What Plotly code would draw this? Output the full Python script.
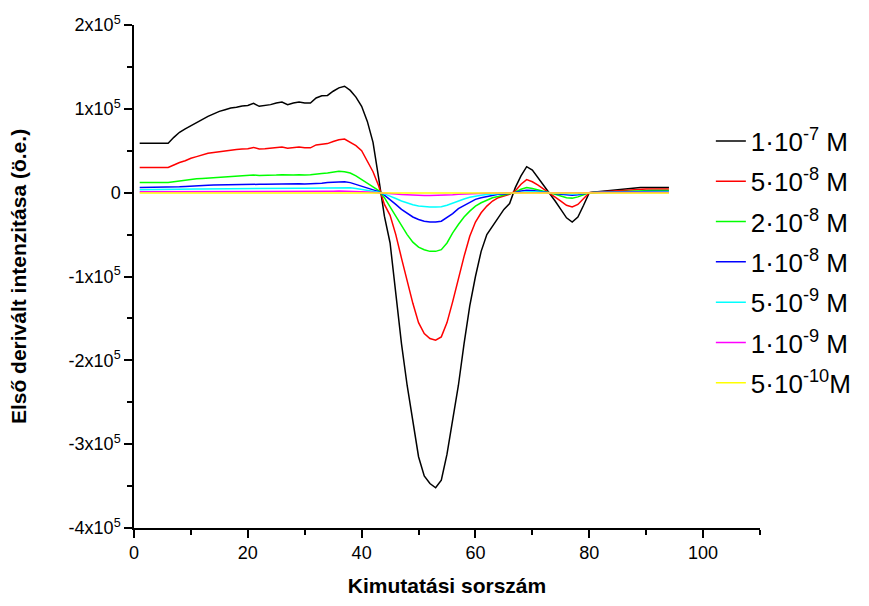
import plotly.graph_objects as go

x_index = list(range(1, 95))

# values in units of 1e5
black = [0.59, 0.59, 0.59, 0.59, 0.59, 0.59, 0.66, 0.72, 0.76, 0.80,
         0.84, 0.87, 0.91, 0.94, 0.97, 0.99, 1.01, 1.02, 1.035, 1.04,
         1.065, 1.03, 1.04, 1.05, 1.07, 1.08, 1.05, 1.07, 1.08, 1.07,
         1.07, 1.13, 1.155, 1.16, 1.21, 1.25, 1.27, 1.22, 1.14, 1.03,
         0.85, 0.60, 0.17, -0.28, -0.60, -1.20, -1.80, -2.30, -2.75, -3.15,
         -3.38, -3.47, -3.52, -3.43, -3.12, -2.72, -2.30, -1.80, -1.35, -1.00,
         -0.70, -0.50, -0.40, -0.30, -0.20, -0.13, 0.06, 0.20, 0.31, 0.27,
         0.18, 0.09, 0.0, -0.10, -0.20, -0.30, -0.35, -0.29, -0.15, 0.0,
         0.008, 0.015, 0.022, 0.03, 0.037, 0.045, 0.053, 0.06, 0.062, 0.062,
         0.062, 0.062, 0.062, 0.062]
red = [0.30, 0.30, 0.30, 0.30, 0.30, 0.30, 0.33, 0.36, 0.38, 0.41,
       0.43, 0.45, 0.47, 0.48, 0.49, 0.50, 0.51, 0.515, 0.52, 0.525,
       0.54, 0.52, 0.525, 0.53, 0.54, 0.545, 0.53, 0.54, 0.545, 0.535,
       0.535, 0.57, 0.58, 0.585, 0.61, 0.63, 0.64, 0.60, 0.56, 0.50,
       0.38, 0.25, 0.08, -0.14, -0.27, -0.50, -0.78, -1.05, -1.32, -1.55,
       -1.68, -1.74, -1.76, -1.72, -1.55, -1.30, -1.02, -0.76, -0.52, -0.35,
       -0.24, -0.16, -0.10, -0.06, -0.04, -0.02, 0.02, 0.10, 0.155, 0.13,
       0.09, 0.045, 0.0, -0.05, -0.10, -0.15, -0.17, -0.14, -0.07, 0.0,
       0.005, 0.01, 0.015, 0.02, 0.025, 0.03, 0.035, 0.04, 0.043, 0.043,
       0.043, 0.043, 0.043, 0.043]
green = [0.12, 0.12, 0.12, 0.12, 0.12, 0.12, 0.13, 0.14, 0.15, 0.16,
         0.165, 0.17, 0.175, 0.18, 0.185, 0.19, 0.195, 0.20, 0.20, 0.205,
         0.21, 0.205, 0.205, 0.21, 0.21, 0.215, 0.21, 0.21, 0.215, 0.21,
         0.215, 0.225, 0.23, 0.235, 0.245, 0.255, 0.25, 0.235, 0.20, 0.16,
         0.11, 0.07, 0.025, -0.06, -0.17, -0.28, -0.40, -0.50, -0.59, -0.65,
         -0.68, -0.70, -0.70, -0.68, -0.60, -0.48, -0.38, -0.29, -0.22, -0.16,
         -0.12, -0.09, -0.06, -0.045, -0.03, -0.015, 0.005, 0.04, 0.062, 0.05,
         0.035, 0.02, 0.0, -0.02, -0.04, -0.06, -0.065, -0.05, -0.025, 0.0,
         0.003, 0.006, 0.01, 0.013, 0.016, 0.02, 0.023, 0.026, 0.027, 0.027,
         0.027, 0.027, 0.027, 0.027]
blue = [0.062, 0.062, 0.062, 0.062, 0.062, 0.062, 0.065, 0.07, 0.075, 0.08,
        0.082, 0.085, 0.088, 0.09, 0.092, 0.095, 0.097, 0.10, 0.10, 0.10,
        0.102, 0.10, 0.10, 0.102, 0.104, 0.105, 0.103, 0.104, 0.105, 0.104,
        0.105, 0.11, 0.113, 0.12, 0.125, 0.13, 0.13, 0.12, 0.10, 0.08,
        0.055, 0.035, 0.012, -0.03, -0.08, -0.14, -0.20, -0.25, -0.29, -0.32,
        -0.34, -0.35, -0.35, -0.34, -0.30, -0.25, -0.19, -0.15, -0.11, -0.08,
        -0.06, -0.045, -0.03, -0.02, -0.015, -0.008, 0.002, 0.02, 0.03, 0.025,
        0.018, 0.01, 0.0, -0.01, -0.02, -0.028, -0.03, -0.025, -0.012, 0.0,
        0.002, 0.004, 0.005, 0.007, 0.008, 0.01, 0.012, 0.013, 0.014, 0.014,
        0.014, 0.014, 0.014, 0.014]
cyan = [0.035, 0.035, 0.035, 0.035, 0.035, 0.035, 0.037, 0.039, 0.041, 0.043,
        0.044, 0.045, 0.046, 0.047, 0.048, 0.049, 0.05, 0.05, 0.05, 0.051,
        0.052, 0.051, 0.051, 0.052, 0.053, 0.053, 0.052, 0.053, 0.053, 0.053,
        0.054, 0.056, 0.058, 0.06, 0.063, 0.066, 0.065, 0.06, 0.05, 0.04,
        0.028, 0.018, 0.006, -0.015, -0.04, -0.07, -0.10, -0.125, -0.145, -0.16,
        -0.168, -0.172, -0.172, -0.168, -0.15, -0.125, -0.095, -0.075, -0.055, -0.04,
        -0.03, -0.022, -0.015, -0.01, -0.007, -0.004, 0.001, 0.01, 0.015, 0.012,
        0.009, 0.005, 0.0, -0.005, -0.01, -0.014, -0.015, -0.012, -0.006, 0.0,
        0.001, 0.002, 0.003, 0.003, 0.004, 0.005, 0.006, 0.007, 0.007, 0.007,
        0.007, 0.007, 0.007, 0.007]
magenta = [0.01, 0.01, 0.01, 0.01, 0.01, 0.01, 0.011, 0.011, 0.012, 0.012,
           0.012, 0.013, 0.013, 0.013, 0.014, 0.014, 0.014, 0.015, 0.015, 0.015,
           0.015, 0.015, 0.015, 0.015, 0.015, 0.015, 0.015, 0.015, 0.015, 0.015,
           0.015, 0.016, 0.017, 0.017, 0.018, 0.019, 0.019, 0.017, 0.014, 0.011,
           0.008, 0.005, 0.002, -0.004, -0.009, -0.015, -0.021, -0.026, -0.03, -0.033,
           -0.034, -0.035, -0.035, -0.034, -0.031, -0.026, -0.02, -0.016, -0.012, -0.009,
           -0.007, -0.005, -0.004, -0.003, -0.002, -0.001, 0.0, 0.002, 0.003, 0.003,
           0.002, 0.001, 0.0, -0.001, -0.002, -0.003, -0.003, -0.002, -0.001, 0.0,
           0.0, 0.001, 0.001, 0.001, 0.001, 0.001, 0.002, 0.002, 0.002, 0.002,
           0.002, 0.002, 0.002, 0.002]
yellow = [-0.003, -0.003, -0.003, -0.003, -0.003, -0.003, -0.003, -0.003, -0.003, -0.003,
          -0.003, -0.003, -0.003, -0.003, -0.003, -0.003, -0.003, -0.003, -0.003, -0.003,
          -0.003, -0.003, -0.003, -0.003, -0.003, -0.003, -0.003, -0.003, -0.003, -0.003,
          -0.003, -0.003, -0.003, -0.003, -0.003, -0.003, -0.003, -0.003, -0.003, -0.003,
          -0.003, -0.003, -0.003, -0.004, -0.005, -0.006, -0.007, -0.008, -0.009, -0.01,
          -0.01, -0.01, -0.01, -0.01, -0.009, -0.008, -0.007, -0.006, -0.005, -0.004,
          -0.004, -0.003, -0.003, -0.003, -0.003, -0.003, -0.003, -0.003, -0.003, -0.003,
          -0.003, -0.003, -0.003, -0.003, -0.003, -0.003, -0.003, -0.003, -0.003, -0.003,
          -0.003, -0.003, -0.003, -0.003, -0.003, -0.003, -0.003, -0.003, -0.003, -0.003,
          -0.003, -0.003, -0.003, -0.003]

series_names = ["1·10<sup>-7</sup> M", "5·10<sup>-8</sup> M", "2·10<sup>-8</sup> M",
                "1·10<sup>-8</sup> M", "5·10<sup>-9</sup> M", "1·10<sup>-9</sup> M",
                "5·10<sup>-10</sup>M"]
series_values = [black, red, green, blue, cyan, magenta, yellow]
series_colors = ["#000000", "#FF0000", "#00FF00", "#0000FF", "#00FFFF", "#FF00FF", "#FFFF00"]

y_tickvals = [2e5, 1e5, 0, -1e5, -2e5, -3e5, -4e5]
y_ticktext = ["2x10<sup>5</sup>", "1x10<sup>5</sup>", "0", "-1x10<sup>5</sup>",
              "-2x10<sup>5</sup>", "-3x10<sup>5</sup>", "-4x10<sup>5</sup>"]
SCALE = 1e5

fig = go.Figure()
for i, (name, vals, col) in enumerate(zip(series_names, series_values, series_colors)):
    fig.add_trace(go.Scatter(
        x=x_index, y=[v * SCALE for v in vals], mode="lines", name=name,
        line=dict(color=col, width=1.5), legendgroup=f"g{i}",
    ))

font_family = "Arial, Liberation Sans, sans-serif"
fig.update_layout(
    width=869, height=606,
    margin=dict(l=134, r=98, t=25, b=68),
    paper_bgcolor="white", plot_bgcolor="white",
    font=dict(family=font_family, color="black", size=18),
    showlegend=True,
    legend=dict(x=0.9215, y=0.816, xanchor="left", yanchor="top",
                font=dict(size=26, family=font_family, color="black"),
                bgcolor="rgba(0,0,0,0)", tracegroupgap=3.5,
                itemwidth=30),
    xaxis=dict(range=[0, 110], showline=True, linecolor="black", linewidth=1.5,
               ticks="outside", ticklen=8, tickwidth=1.5, tickcolor="black",
               dtick=20, tick0=0, showgrid=False, zeroline=False,
               minor=dict(dtick=10, ticklen=5, tickwidth=1.5, tickcolor="black", ticks="outside"),
               tickfont=dict(size=18),
               title=dict(text="<b>Kimutatási sorszám</b>", font=dict(size=21), standoff=16)),
    yaxis=dict(range=[-4e5, 2e5], showline=True, linecolor="black", linewidth=1.5,
               ticks="outside", ticklen=8, tickwidth=1.5, tickcolor="black",
               tickvals=y_tickvals, ticktext=y_ticktext, showgrid=False, zeroline=False,
               minor=dict(dtick=5e4, ticklen=5, tickwidth=1.5, tickcolor="black", ticks="outside"),
               tickfont=dict(size=18),
               title=dict(text="<b>Első derivált intenzitása (ö.e.)</b>", font=dict(size=21), standoff=36)),
)

fig.write_html(
    "out.html",
    config={"displayModeBar": False},
    post_script=(
        "document.documentElement.style.margin='0';"
        "document.documentElement.style.overflow='hidden';"
        "document.body.style.margin='0';"
        "document.body.style.overflow='hidden';"
    ),
)
